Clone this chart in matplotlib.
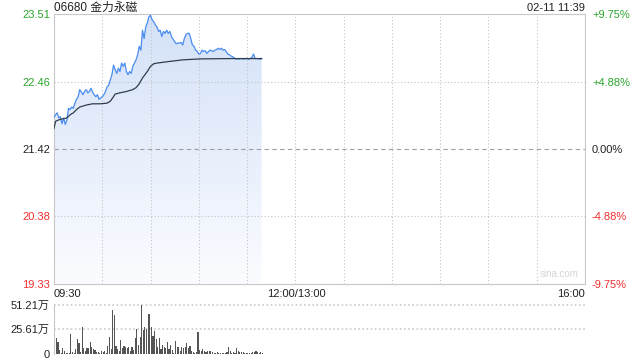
import matplotlib
matplotlib.use('Agg')
import matplotlib.pyplot as plt
import numpy as np

plt.rcParams['font.family'] = ['Liberation Sans', 'Noto Sans CJK SC', 'DejaVu Sans']

title = '06680 金力永磁'
stamp = '02-11 11:39'
prev_close = 21.42
price_ticks = [19.33, 20.38, 21.42, 22.46, 23.51]
pct_labels = ['-9.75%', '-4.88%', '0.00%', '+4.88%', '+9.75%']
time_labels = ['09:30', '12:00/13:00', '16:00']
vol_ticks = [0, 25.61, 51.21]
vol_labels = ['0', '25.61万', '51.21万']

# one price per minute from 09:30
price = [21.91, 21.95, 21.98, 21.90, 21.92, 21.81, 21.90, 21.80, 21.87, 22.05,
         22.03, 22.07, 22.05, 22.13, 22.19, 22.23, 22.34, 22.30, 22.26, 22.31,
         22.34, 22.29, 22.31, 22.36, 22.30, 22.26, 22.23, 22.26, 22.19, 22.21, 22.23,
         22.26, 22.31, 22.38, 22.41, 22.49, 22.57, 22.72, 22.65, 22.59, 22.67,
         22.62, 22.75, 22.70, 22.75, 22.62, 22.57, 22.62, 22.59, 22.70, 22.75, 22.80,
         22.88, 23.01, 22.95, 23.26, 23.13, 23.31, 23.37, 23.47, 23.49, 23.42,
         23.39, 23.34, 23.31, 23.24, 23.26, 23.16, 23.24, 23.21, 23.26, 23.21,
         23.24, 23.16, 23.12, 23.08, 23.05, 23.06, 23.06, 23.07, 23.03, 23.13, 23.19,
         23.21, 23.21, 23.13, 23.03, 23.01, 22.95, 22.93, 22.89, 22.90, 22.95,
         22.93, 22.94, 22.90, 22.93, 22.95, 22.94, 22.93, 22.95, 22.96, 22.98,
         22.96, 22.98, 22.95, 22.96, 22.93, 22.89, 22.88, 22.86, 22.85, 22.83,
         22.81, 22.82, 22.81, 22.82, 22.82, 22.81, 22.82, 22.82, 22.81, 22.82,
         22.84, 22.89, 22.82, 22.82, 22.82, 22.81, 22.82]

avg_min = [0, 1, 4, 8, 10, 12, 14, 16, 20, 24, 29, 33, 35, 37, 38, 41, 45, 49,
           51, 53, 55, 58, 60, 62, 64, 70, 80, 91, 111, 129]
avg_price = [21.74, 21.85, 21.88, 21.90, 21.95, 21.98, 22.03, 22.07, 22.10, 22.12,
             22.12, 22.13, 22.16, 22.23, 22.27, 22.29, 22.31, 22.34, 22.37, 22.43,
             22.52, 22.62, 22.70, 22.74, 22.75, 22.77, 22.80, 22.815, 22.82, 22.82]

# volume in 万 per minute
volume = [6.8, 16.4, 12.0, 4.1, 1.0, 5.8, 3.4, 0.7, 0.7, 1.0,
          20.5, 1.7, 0.7, 5.1, 15.4, 10.9, 1.7, 28.3, 6.1, 2.7,
          6.1, 6.1, 12.0, 6.8, 5.1, 4.4, 1.7, 1.7, 0.7, 2.7,
          1.7, 2.7, 1.0, 8.2, 17.1, 5.1, 45.1, 40.0, 8.5, 5.1,
          3.4, 14.3, 5.8, 8.5, 7.5, 6.1, 6.8, 3.4, 6.8, 4.1,
          16.4, 25.6, 9.2, 17.1, 51.2, 24.6, 28.0, 25.6, 41.7, 41.0,
          28.0, 18.8, 23.9, 15.4, 7.5, 16.4, 5.1, 9.6, 7.5, 6.1,
          12.0, 5.1, 9.6, 4.4, 1.4, 13.0, 7.5, 6.8, 3.4, 7.5,
          6.1, 6.8, 10.9, 6.1, 8.5, 3.4, 1.7, 1.0, 1.7, 23.2,
          4.1, 2.7, 4.8, 3.4, 1.7, 2.7, 2.7, 3.4, 1.7, 1.0,
          1.4, 1.7, 0.7, 0.7, 1.0, 1.4, 1.0, 1.7, 6.8, 3.4,
          1.4, 2.4, 0.7, 6.1, 2.7, 2.4, 1.7, 1.7, 1.4, 1.0,
          0.7, 0.7, 1.0, 1.7, 2.4, 3.4, 1.7, 1.0, 1.7, 1.0]

t = np.arange(len(price))
tv = np.arange(len(volume))
green = '#2aa52a'
red = '#f03030'
fs = 8

fig = plt.figure(figsize=(6.4, 3.6), dpi=100)
ax = fig.add_axes([54/640, 1-284/360, 531/640, 270/360])
ax.set_xlim(0, 330)
ax.set_ylim(price_ticks[0], price_ticks[-1])

# gradient fill under the price line
poly = ax.fill_between(t, price, price_ticks[0], color='none', lw=0)
grad = np.linspace(0, 1, 256).reshape(-1, 1)
cmap = matplotlib.colors.LinearSegmentedColormap.from_list('g', ['#fbfcff', '#d3e1f8'])
img = ax.imshow(grad, cmap=cmap, aspect='auto', origin='lower',
                extent=[0, 330, price_ticks[0], price_ticks[-1]], zorder=1)
img.set_clip_path(poly.get_paths()[0], transform=ax.transData)

for x in range(30, 330, 30):
    ax.axvline(x, color='#c4c4c4', lw=0.8, ls=(0, (1, 2)), zorder=2)
for y in [20.38, 22.46]:
    ax.axhline(y, color='#c4c4c4', lw=0.8, ls=(0, (1, 2)), zorder=2)
ax.axhline(prev_close, color='#a0a0a0', lw=0.8, ls=(0, (4, 3)), zorder=2)

ax.plot(t, price, color='#4a8cf0', lw=0.9, zorder=3)
ax.plot(avg_min, avg_price, color='#333d4a', lw=0.9, zorder=3)

for s in ax.spines.values():
    s.set_color('#c8c8c8')
    s.set_linewidth(0.8)
ax.set_xticks([])
ax.set_yticks(price_ticks)
ax.set_yticklabels(['%.2f' % v for v in price_ticks], fontsize=fs)
ax.tick_params(axis='y', length=0, pad=3)
for lab, c in zip(ax.get_yticklabels(), [red, red, '#222222', green, green]):
    lab.set_color(c)

ax2 = ax.twinx()
ax2.set_ylim(ax.get_ylim())
ax2.set_yticks(price_ticks)
ax2.set_yticklabels(pct_labels, fontsize=fs)
ax2.tick_params(axis='y', length=0, pad=5)
for lab, c in zip(ax2.get_yticklabels(), [red, red, '#222222', green, green]):
    lab.set_color(c)
for s in ax2.spines.values():
    s.set_visible(False)

fig.text(54/640, 1-8/360, title, fontsize=8.5, color='#222222', va='center', ha='left')
fig.text(585/640, 1-8/360, stamp, fontsize=fs, color='#222222', va='center', ha='right')
fig.text(54/640, 1-294/360, time_labels[0], fontsize=fs, color='#222222', va='center', ha='left')
fig.text(296/640, 1-294/360, time_labels[1], fontsize=fs, color='#222222', va='center', ha='center')
fig.text(585/640, 1-294/360, time_labels[2], fontsize=fs, color='#222222', va='center', ha='right')
ax.text(326, 19.40, 'sina.com', fontsize=7, color='#d5d5d5', ha='right', va='bottom')

axv = fig.add_axes([54/640, 1-354/360, 531/640, 49.5/360])
axv.set_xlim(0, 330)
axv.set_ylim(0, 51.21)
axv.bar(tv + 0.5, volume, width=0.7, color='#555555', zorder=2)
for y in [25.61, 51.21]:
    axv.axhline(y, color='#cccccc', lw=1.2, ls=(0, (1, 1.5)), zorder=0, clip_on=False)
for k, s in axv.spines.items():
    s.set_visible(k == 'left')
axv.spines['left'].set_color('#c8c8c8')
axv.set_xticks([])
axv.set_yticks(vol_ticks)
axv.set_yticklabels(vol_labels, fontsize=fs, color='#222222')
axv.tick_params(axis='y', length=0, pad=3)

fig.savefig('out.png', dpi=100)
